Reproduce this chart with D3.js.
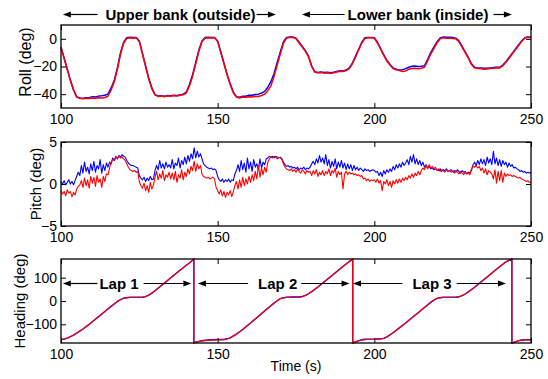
<!DOCTYPE html>
<html>
<head>
<meta charset="utf-8">
<script src="https://cdn.jsdelivr.net/npm/d3@7"></script>
<style>
  body { margin: 0; background: #fff; }
  text { font-family: "Liberation Sans", Arial, Helvetica, sans-serif; }
</style>
</head>
<body>
<div id="chart"></div>
<script>
// Roll (deg), one value per second from t = 100 s to 250 s
const rollRed = [
  -6, -14, -22, -30, -37, -42, -43, -43.3, -43, -43.2,
  -42.8, -43, -42.6, -42.8, -42.4, -41.5, -37, -31, -22, -11,
  -3, 0.3, 0.8, 0.5, 0.7, -2, -11, -20, -29, -36,
  -40.5, -41.6, -41.4, -41.8, -41.2, -41.5, -41, -41.3, -40.8, -40.5,
  -39, -34, -27, -18, -9, -2, 0.5, 0.8, 0.6, 0.7,
  -2, -10, -18, -26, -33, -39, -42, -42.8, -42, -42.3,
  -41.8, -42, -41.5, -41.7, -41, -40, -37.5, -34, -27, -19,
  -11, -3, 0.5, 1, 1, 0.2, -3, -6, -9, -13,
  -20, -24, -24.6, -24.3, -24.8, -24.5, -25, -24.6, -24, -23.4,
  -23.6, -23, -21.5, -18, -13, -8, -3, 0.3, 0.8, 0.7,
  0.5, -3, -7.5, -12, -16, -19, -21.5, -22.4, -23, -23.6,
  -23.2, -22, -21.5, -21.2, -21.6, -21.3, -20.5, -16, -11, -7,
  -3, 0, 0.8, 0.5, 0.6, 0.2, 0, -2, -6, -10,
  -14, -18.5, -21, -21.4, -21.6, -22, -21.8, -21.5, -21.2, -20.9,
  -21, -19.5, -17, -14, -11, -8, -5, -2, 0.5, 1.2,
  1
];
const rollBlue = [
  -6, -14, -22, -30, -37, -42, -42.8, -43, -42.6, -42.5,
  -41.8, -42, -41.4, -41.2, -40.8, -40, -35.5, -30, -21, -10,
  -2.5, 0.8, 1.2, 1, 1, -1.5, -10.5, -19.5, -28.5, -35.5,
  -40.3, -41.3, -41.2, -41.5, -41, -41.2, -40.8, -41, -40.5, -40,
  -38.5, -33, -26, -17, -8, -1.5, 1, 1.2, 1, 1,
  -1.5, -9.5, -17.5, -25.5, -32.5, -38.5, -41.8, -42.2, -41.5, -41.5,
  -40.8, -40.8, -40.2, -40, -39.2, -38, -35, -31, -25, -17,
  -9.5, -2, 1, 1.3, 1.3, 0.5, -2.5, -5.5, -8.5, -12.5,
  -19.5, -23.8, -24.4, -24, -24.4, -24.2, -24.6, -24.2, -23.6, -23,
  -23.2, -22.6, -21, -17.5, -12.5, -7.5, -2.5, 0.8, 1, 1,
  0.8, -2.5, -7, -11.5, -15.5, -18.5, -21, -22, -22.5, -22.4,
  -21.5, -20.5, -19.8, -19.6, -20, -19.8, -19.5, -15, -10, -6,
  -2.3, 0.6, 1.3, 1.2, 1.2, 0.9, 0.5, -1.5, -5.5, -9.5,
  -13.5, -18, -20.6, -21, -21.1, -21.3, -21.2, -21, -20.8, -20.5,
  -20.6, -19, -16.5, -13.5, -10.5, -7.5, -4.5, -1.5, 0.8, 1.4,
  1.2
];

// Pitch (deg), one value every half second from t = 100 s to 250 s
const pitchBlue = [
  0.3, 0.0, 0.4, -0.1, 0.2, 0.5, 0.0, 0.3, -0.1, 0.4,
  0.9, 1.4, 1.0, 2.2, 1.3, 2.6, 1.5, 2.0, 1.2, 2.4,
  1.6, 2.7, 1.4, 2.2, 1.8, 2.9, 1.3, 2.3, 1.6, 2.5,
  2.0, 2.6, 2.4, 3.1, 2.8, 3.3, 3.0, 3.4, 3.2, 3.5,
  3.3, 3.2, 2.8, 2.5, 2.3, 2.2, 2.2, 2.1, 2.0, 1.9,
  1.0, 0.7, 0.5, 0.8, 0.3, 0.7, 0.4, 0.9, 0.5, 0.6,
  1.6, 2.2, 1.7, 2.8, 1.9, 2.4, 1.8, 2.6, 2.0, 2.3,
  1.9, 2.9, 1.8, 2.5, 2.2, 3.1, 1.9, 2.8, 2.3, 3.2,
  2.4, 3.4, 2.7, 3.6, 3.0, 4.3, 3.1, 3.9, 3.2, 3.6,
  3.0, 2.4, 2.2, 2.0, 1.9, 1.8, 1.9, 1.7, 1.8, 1.6,
  0.9, 0.5, 0.3, 0.6, 0.2, 0.5, 0.3, 0.6, 0.2, 0.5,
  0.4, 1.2, 1.6, 2.3, 1.5, 2.8, 1.7, 2.5, 1.4, 3.1,
  1.8, 2.6, 1.5, 2.9, 2.0, 2.4, 1.7, 3.0, 1.9, 2.6,
  2.3, 3.0, 3.1, 3.3, 3.2, 3.3, 3.1, 3.3, 3.2, 3.1,
  3.2, 3.0, 2.6, 2.3, 2.1, 2.2, 2.0, 2.1, 1.9, 2.0,
  1.8, 2.0, 1.7, 1.9, 1.8, 2.0, 1.7, 1.9, 1.8, 2.0,
  2.4, 2.7, 2.3, 3.0, 2.5, 3.4, 2.6, 3.1, 2.4, 3.5,
  2.2, 2.9, 1.9, 2.7, 2.1, 3.0, 1.8, 2.6, 2.0, 2.8,
  1.9, 2.5, 1.7, 2.4, 1.8, 2.3, 1.6, 2.2, 1.7, 2.0,
  1.6, 1.9, 1.7, 1.5, 1.8, 1.6, 1.7, 1.5, 1.6, 1.7,
  1.6, 1.4, 1.5, 1.0, 1.4, 0.9, 1.6, 1.2, 1.7, 1.4,
  1.8, 1.5, 2.1, 1.7, 2.3, 1.9, 2.4, 2.0, 2.6, 2.2,
  2.5, 2.9, 2.3, 3.3, 2.6, 3.5, 2.4, 3.0, 2.3, 2.8,
  2.2, 2.6, 2.0, 2.3, 1.9, 2.1, 1.8, 1.9, 1.7, 1.8,
  1.7, 1.6, 1.8, 1.5, 1.7, 1.6, 1.8, 1.5, 1.6, 1.7,
  1.5, 1.6, 1.4, 1.7, 1.5, 1.3, 1.6, 1.4, 1.5, 1.2,
  1.4, 1.3, 1.6, 2.3, 2.6, 2.2, 2.8, 2.3, 3.0, 2.4,
  2.9, 2.2, 3.2, 2.5, 3.0, 2.3, 3.9, 2.4, 3.1, 2.2,
  2.9, 2.1, 2.8, 2.3, 2.6, 2.0, 2.5, 2.1, 2.3, 1.9,
  2.0, 1.8, 1.7, 1.5, 1.6, 1.4, 1.5, 1.3, 1.4, 1.3,
  1.4
];
const pitchRed = [
  -0.8, -1.2, -0.9, -1.4, -0.7, -1.1, -0.9, -1.5, -1.0, -1.3,
  -0.6, -0.3, -0.1, 0.4, -0.4, 0.7, -0.2, 0.5, -0.5, 0.9,
  0.1, 0.8, -0.3, 1.0, 0.2, 0.6, -0.4, 0.9, 0.3, 1.2,
  1.1, 1.9, 2.6, 2.9, 2.8, 3.2, 3.0, 3.3, 3.1, 3.2,
  3.0, 2.8, 2.4, 2.0, 1.7, 1.6, 1.5, 1.6, 1.4, 1.5,
  0.3, -0.2, -0.5, 0.1, -0.8, -0.2, -1.0, 0.2, -0.6, -0.1,
  0.8, 1.5, 0.5, 1.2, 0.7, 1.6, 0.4, 1.1, 0.8, 1.4,
  0.6, 1.3, 0.5, 1.5, 0.2, 1.1, 0.7, 1.7, 0.5, 1.4,
  0.9, 1.8, 1.2, 2.1, 1.6, 2.7, 1.5, 2.4, 1.8, 2.2,
  1.2, 0.9, 0.8, 0.7, 0.8, 0.6, 0.7, 0.8, 0.6, -0.4,
  -0.8, -1.2, -0.7, -1.4, -0.9, -1.6, -1.0, -1.3, -0.8, -1.5,
  -0.9, -0.2, 0.3, -0.6, 0.5, -0.4, 0.8, -0.2, 0.6, 0.0,
  0.9, 0.2, 1.1, 0.4, 1.5, 0.6, 2.2, 0.8, 1.9, 1.1,
  2.0, 1.4, 2.6, 3.0, 3.2, 3.1, 3.3, 3.2, 3.0, 3.2,
  3.1, 2.9, 2.4, 2.0, 1.8, 1.7, 1.6, 1.8, 1.5, 1.7,
  1.4, 1.8, 1.5, 1.3, 1.7, 1.5, 1.2, 1.6, 1.4, 1.5,
  1.0, 1.6, 1.2, 1.7, 0.9, 1.4, 1.1, 1.6, 1.0, 1.5,
  1.2, 1.8, 1.0, 1.6, 1.3, 1.9, 0.8, 1.5, 1.1, 1.4,
  -0.6, 1.2, 1.5, 1.1, 1.4, 1.2, 1.3, 1.1, 1.2, 1.0,
  1.1, 0.9, 1.0, 0.6, 0.7, 0.4, 0.6, 0.3, 0.5, 0.4,
  0.5, 0.2, 0.6, 0.1, 0.4, -0.8, 0.3, 0.0, 0.5, -0.2,
  0.3, -0.4, 0.4, 0.0, 0.5, 0.1, 0.6, 0.2, 0.7, 0.4,
  0.8, 0.5, 1.0, 0.7, 1.2, 0.8, 1.3, 1.0, 1.5, 1.1,
  1.6, 1.9, 1.7, 2.2, 1.8, 2.3, 1.9, 2.1, 1.8, 2.0,
  1.6, 1.8, 1.5, 1.7, 1.6, 1.4, 1.7, 1.5, 1.6, 1.4,
  1.5, 1.3, 1.6, 1.4, 1.2, 1.5, 1.3, 1.1, 1.4, 1.2,
  1.3, 1.1, 1.8, 2.1, 2.0, 2.2, 1.9, 2.1, 1.6, 1.9,
  1.3, 1.8, 1.1, 1.6, 1.4, 1.2, 0.6, 1.7, 0.1, 1.5,
  0.4, 1.6, 0.2, 1.3, 0.9, 1.2, 1.0, 1.1, 0.9, 1.0,
  0.9, 0.8, 0.7, 0.8, 0.6, 0.5, 0.4, 0.3, 0.4, 0.2,
  0.2
];

// Heading (deg) read at the bends of the curve, wraps at +/-180
const headingTime = [
  100, 101, 102, 103, 104, 105, 106, 107, 108, 109, 110, 112, 114, 116, 118, 119, 120, 121, 122, 124, 126, 127, 128, 129, 130, 132, 134, 136, 138, 140, 141, 142, 142.4,
  142.4, 143, 144, 145, 146, 148, 150, 152, 153, 154, 156, 158, 160, 162, 164, 166, 168, 169, 170, 171, 172, 174, 176, 177, 178, 179, 180, 182, 184, 186, 188, 190, 192, 193.1,
  193.1, 194, 195, 196, 197, 198, 200, 202, 203, 204, 206, 208, 210, 212, 214, 216, 218, 219, 220, 221, 222, 224, 226, 227, 228, 229, 230, 232, 234, 236, 238, 240, 242, 243.9,
  243.9, 245, 246, 247, 248, 250
];
const headingRed = [
  -166, -163, -159, -153, -146, -138, -129, -120, -110, -100, -89, -67, -45, -23, -2, 6, 12, 14, 15, 15, 16, 19, 25, 34, 44, 66, 88, 110, 132, 153, 163, 175, 180,
  -180, -176, -174, -172, -170, -168, -167, -166, -163, -158, -142, -122, -100, -77, -54, -31, -9, 1, 10, 14, 15, 16, 17, 19, 24, 31, 40, 60, 82, 104, 126, 148, 169, 180,
  -180, -175, -171, -167, -166, -165, -165, -163, -160, -154, -136, -115, -94, -72, -50, -28, -6, 4, 11, 14, 15, 15, 16, 18, 23, 30, 39, 59, 81, 103, 125, 147, 168, 180,
  -180, -175, -171, -168, -167, -166
];
const headingBlue = [
  -166, -163, -159, -153, -146, -138, -129, -120, -110, -100, -89, -67, -45, -23, -2, 6, 12, 14, 16, 16, 16, 19, 25, 34, 44, 66, 88, 110, 132, 153, 163, 175, 180,
  -180, -176, -173, -170, -168, -166, -165, -165, -162, -158, -142, -122, -100, -77, -54, -31, -9, 1, 10, 14, 16, 17, 17, 19, 24, 31, 40, 60, 82, 104, 126, 148, 169, 180,
  -180, -175, -170, -166, -164, -164, -164, -162, -160, -154, -136, -115, -94, -72, -50, -28, -6, 4, 11, 14, 16, 16, 16, 18, 23, 30, 39, 59, 81, 103, 125, 147, 168, 180,
  -180, -175, -170, -167, -166, -166
];

const xTicks = [100, 150, 200, 250];
const rollTicks = [-40, -20, 0];
const pitchTicks = [-5, 0, 5];
const headingTicks = [-100, 0, 100];
const bankLabels = ["Upper bank (outside)", "Lower bank (inside)"];
const lapLabels = ["Lap 1", "Lap 2", "Lap 3"];

const svgWidth = 548;
const svgHeight = 379;
const fontFamily = '"Liberation Sans", Arial, Helvetica, sans-serif';

const svg = d3.select("#chart")
    .append("svg")
    .attr("width", svgWidth)
    .attr("height", svgHeight);

const x = d3.scaleLinear().domain([100, 250]).range([61, 531]);

const panels = [
    { top: 25, bottom: 108, domain: [-50, 10], ticks: rollTicks, label: "Roll (deg)", labelX: 31, labelY: 62, size: 16 },
    { top: 142, bottom: 226, domain: [-5, 5], ticks: pitchTicks, label: "Pitch (deg)", labelX: 41, labelY: 184, size: 15 },
    { top: 259, bottom: 343, domain: [-180, 180], ticks: headingTicks, label: "Heading (deg)", labelX: 25, labelY: 301, size: 15 }
];

panels.forEach(p => {
    p.y = d3.scaleLinear().domain(p.domain).range([p.bottom, p.top]);
});

// Axes: MATLAB style box with ticks pointing inward
function drawAxes(p) {
    const g = svg.append("g");

    g.append("g")
        .attr("transform", `translate(0,${p.bottom})`)
        .call(d3.axisBottom(x).tickValues(xTicks).tickSize(-5).tickPadding(6).tickFormat(d3.format("d")));
    g.append("g")
        .attr("transform", `translate(0,${p.top})`)
        .call(d3.axisTop(x).tickValues(xTicks).tickSize(-5).tickFormat(""));
    g.append("g")
        .attr("transform", `translate(${x.range()[0]},0)`)
        .call(d3.axisLeft(p.y).tickValues(p.ticks).tickSize(-5).tickPadding(4).tickFormat(d3.format("d")));
    g.append("g")
        .attr("transform", `translate(${x.range()[1]},0)`)
        .call(d3.axisRight(p.y).tickValues(p.ticks).tickSize(-5).tickFormat(""));

    g.selectAll(".domain").remove();
    g.selectAll("g").attr("font-family", fontFamily).attr("font-size", 14);
    g.selectAll(".tick line").attr("stroke", "#000").attr("stroke-width", 1);
    g.selectAll(".tick text").attr("fill", "#000");

    g.append("rect")
        .attr("x", x.range()[0])
        .attr("y", p.top)
        .attr("width", x.range()[1] - x.range()[0])
        .attr("height", p.bottom - p.top)
        .attr("fill", "none")
        .attr("stroke", "#000")
        .attr("stroke-width", 1.3);

    svg.append("text")
        .attr("transform", `translate(${p.labelX},${p.labelY}) rotate(-90)`)
        .attr("text-anchor", "middle")
        .attr("font-size", p.size)
        .text(p.label);
}

function drawSeries(p, times, values, color, width) {
    const line = d3.line()
        .x((d, i) => x(times[i]))
        .y(d => p.y(d));
    svg.append("path")
        .datum(values)
        .attr("d", line)
        .attr("fill", "none")
        .attr("stroke", color)
        .attr("stroke-width", width)
        .attr("stroke-linejoin", "round");
}

const rollTime = rollRed.map((d, i) => 100 + i);
const pitchTime = pitchRed.map((d, i) => 100 + i * 0.5);

// Roll
drawSeries(panels[0], rollTime, rollBlue, "#0000ff", 1.5);
drawSeries(panels[0], rollTime, rollRed, "#ff0000", 1.5);
// Pitch
drawSeries(panels[1], pitchTime, pitchBlue, "#0000ff", 1.1);
drawSeries(panels[1], pitchTime, pitchRed, "#ff0000", 1.1);
// Heading
drawSeries(panels[2], headingTime, headingBlue, "#0000ff", 1.4);
drawSeries(panels[2], headingTime, headingRed, "#ff0000", 1.2);

panels.forEach(drawAxes);

// Double-ended annotation: arrows from the label out to the two tips
function arrowHead(tip, y, dir) {
    svg.append("path")
        .attr("d", `M${tip},${y} L${tip - dir * 8},${y - 3} L${tip - dir * 8},${y + 3} Z`)
        .attr("fill", "#000");
}

function spanLabel(label, tLeft, tRight, center, y, gapLeft, gapRight) {
    const t = svg.append("text")
        .attr("x", center)
        .attr("y", y + 5)
        .attr("text-anchor", "middle")
        .attr("font-size", 15)
        .attr("font-weight", "bold")
        .text(label);
    const w = t.node().getComputedTextLength();
    const left = x(tLeft), right = x(tRight);
    svg.append("line")
        .attr("x1", center - w / 2 - gapLeft).attr("x2", left + 4)
        .attr("y1", y).attr("y2", y)
        .attr("stroke", "#000").attr("stroke-width", 1.2);
    svg.append("line")
        .attr("x1", center + w / 2 + gapRight).attr("x2", right - 4)
        .attr("y1", y).attr("y2", y)
        .attr("stroke", "#000").attr("stroke-width", 1.2);
    arrowHead(left, y, -1);
    arrowHead(right, y, 1);
}

spanLabel(bankLabels[0], 100.6, 168.6, 180.5, 14.5, 8, 1);
spanLabel(bankLabels[1], 176.9, 243.9, 418, 14.5, 3, 5);

const lapY = panels[2].y(75);
spanLabel(lapLabels[0], 100.6, 141.6, 119, lapY, 2, 5);
spanLabel(lapLabels[1], 143.7, 192.1, 277.7, lapY, 10, 4);
spanLabel(lapLabels[2], 193.2, 242.0, 432, lapY, 10, 5);

svg.append("text")
    .attr("x", (x.range()[0] + x.range()[1]) / 2)
    .attr("y", 371)
    .attr("text-anchor", "middle")
    .attr("font-size", 14)
    .text("Time (s)");
</script>
</body>
</html>
